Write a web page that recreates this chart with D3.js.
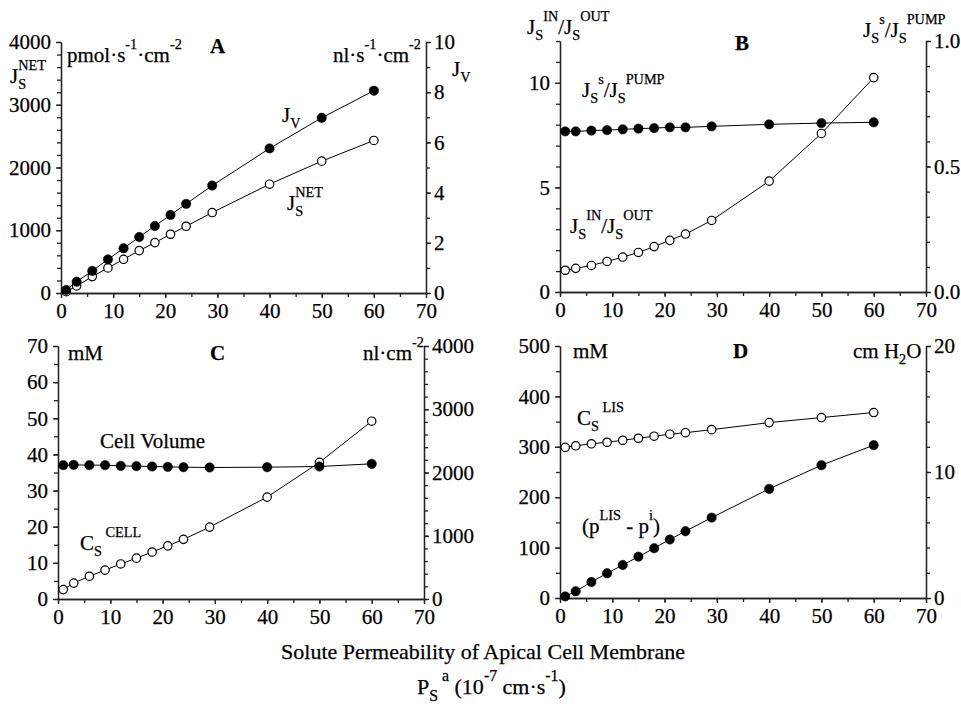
<!DOCTYPE html>
<html>
<head>
<meta charset="utf-8">
<script src="https://cdn.jsdelivr.net/npm/d3@7"></script>
<style>
  body { margin: 0; background: #fff; }
  text { font-family: "Liberation Serif", "Times New Roman", serif; fill: #000; }
</style>
</head>
<body>
<script>
// x positions shared by every panel (10^-7 cm/s)
const xVals = [1, 3, 6, 9, 12, 15, 18, 21, 24, 29, 40, 50, 60];

// panel A
const jsNetA = [21, 112, 261, 399, 537, 676, 803, 936, 1064, 1282, 1734, 2101, 2431];
const jvA = [0.12, 0.45, 0.88, 1.34, 1.78, 2.23, 2.67, 3.11, 3.55, 4.28, 5.76, 6.98, 8.06];
// panel B
const inOutB = [1.04, 1.13, 1.27, 1.46, 1.67, 1.89, 2.17, 2.47, 2.77, 3.42, 5.30, 7.58, 10.25];
const pumpB = [0.640, 0.640, 0.643, 0.645, 0.648, 0.651, 0.653, 0.656, 0.656, 0.660, 0.668, 0.673, 0.676];
// panel C
const csCellC = [2.6, 4.4, 6.3, 8.0, 9.7, 11.3, 13.0, 14.7, 16.5, 19.9, 28.2, 37.8, 49.2];
const cellVolC = [2116, 2121, 2116, 2116, 2105, 2100, 2095, 2089, 2084, 2079, 2084, 2095, 2137];
// panel D
const csLisD = [299, 302, 306, 309, 313, 317, 321, 325, 328, 334, 348, 358, 368];
const pressD = [0.13, 0.53, 1.27, 1.96, 2.62, 3.28, 3.95, 4.64, 5.30, 6.38, 8.66, 10.54, 12.13];

// tick labels
const xTicks = [0, 10, 20, 30, 40, 50, 60, 70];
const aLeftTicks = [0, 1000, 2000, 3000, 4000];
const aRightTicks = [0, 2, 4, 6, 8, 10];
const bLeftTicks = [0, 5, 10];
const bRightTicks = [0, 0.5, 1.0];
const cLeftTicks = [0, 10, 20, 30, 40, 50, 60, 70];
const cRightTicks = [0, 1000, 2000, 3000, 4000];
const dLeftTicks = [0, 100, 200, 300, 400, 500];
const dRightTicks = [0, 10, 20];

const FONT = "'Liberation Serif', 'Times New Roman', serif";
const NB = "\u00A0";

const svg = d3.select("body").append("svg")
    .attr("width", 961)
    .attr("height", 706)
    .attr("font-family", FONT);

// text with sub/superscripts, each piece placed after the previous one
function richText(x, y, parts, size, scr) {
    scr = scr || 0.68;
    let cx = x;
    parts.forEach(function(p) {
        const small = p.k === "sub" || p.k === "sup";
        const fs = small ? size * scr : size;
        const dy = p.k === "sub" ? size * 0.3 : (p.k === "sup" ? -size * 0.6 : 0);
        const t = svg.append("text")
            .attr("x", cx)
            .attr("y", y + dy)
            .attr("font-size", fs)
            .attr("font-family", FONT)
            .attr("font-weight", p.b ? "bold" : null)
            .attr("stroke", "#000")
            .attr("stroke-width", 0.25)
            .text(p.t.replace(/ /g, NB));
        if (!p.stay) cx += t.node().getComputedTextLength();
    });
}

function styleAxis(g) {
    g.attr("font-family", FONT).attr("font-size", 21);
    g.selectAll("path, line").attr("stroke", "#222").attr("stroke-width", 1.3);
    g.selectAll("text").attr("fill", "#000").attr("font-family", FONT)
        .attr("stroke", "#000").attr("stroke-width", 0.25);
}

function drawPanel(p) {
    const x = d3.scaleLinear().domain([0, 70]).range([p.x0, p.x1]);
    const yl = d3.scaleLinear().domain(p.yl).range([p.yB, p.yT]);
    const yr = d3.scaleLinear().domain(p.yr).range([p.yB, p.yT]);
    const intFmt = d3.format("d");

    // minor ticks first
    svg.append("g").attr("transform", "translate(0," + p.yB + ")")
        .call(d3.axisBottom(x).tickValues(d3.range(0, 71, 5)).tickSize(4).tickSizeOuter(0).tickFormat(""))
        .call(styleAxis);
    svg.append("g").attr("transform", "translate(" + p.x0 + ",0)")
        .call(d3.axisLeft(yl).tickValues(d3.range(p.yl[0], p.yl[1] + 1e-9, p.ylMin)).tickSize(4).tickSizeOuter(0).tickFormat(""))
        .call(styleAxis);
    svg.append("g").attr("transform", "translate(" + p.x1 + ",0)")
        .call(d3.axisRight(yr).tickValues(d3.range(p.yr[0], p.yr[1] + 1e-9, p.yrMin)).tickSize(4).tickSizeOuter(0).tickFormat(""))
        .call(styleAxis);

    // major ticks with labels
    svg.append("g").attr("transform", "translate(0," + p.yB + ")")
        .call(d3.axisBottom(x).tickValues(xTicks).tickSize(5).tickPadding(5).tickSizeOuter(0).tickFormat(intFmt))
        .call(styleAxis);
    svg.append("g").attr("transform", "translate(" + p.x0 + ",0)")
        .call(d3.axisLeft(yl).tickValues(p.ylTicks).tickSize(5).tickPadding(5).tickSizeOuter(0).tickFormat(intFmt))
        .call(styleAxis);
    svg.append("g").attr("transform", "translate(" + p.x1 + ",0)")
        .call(d3.axisRight(yr).tickValues(p.yrTicks).tickSize(5).tickPadding(3).tickSizeOuter(0).tickFormat(p.yrFmt || intFmt))
        .call(styleAxis);

    p.series.forEach(function(s) {
        const y = s.axis === "l" ? yl : yr;
        const pts = xVals.map(function(v, i) { return [v, s.y[i]]; });
        const line = d3.line()
            .x(function(d) { return x(d[0]); })
            .y(function(d) { return y(d[1]); });
        svg.append("path")
            .attr("d", line(pts))
            .attr("fill", "none")
            .attr("stroke", "#000")
            .attr("stroke-width", 1);
        svg.append("g").selectAll("circle")
            .data(pts)
            .enter()
            .append("circle")
            .attr("cx", function(d) { return x(d[0]); })
            .attr("cy", function(d) { return y(d[1]); })
            .attr("r", s.open ? 4.2 : 4.7)
            .attr("fill", s.open ? "#fff" : "#000")
            .attr("stroke", "#000")
            .attr("stroke-width", s.open ? 1.2 : 0.5);
    });
}

drawPanel({ x0: 61, x1: 426, yT: 42, yB: 293,
    yl: [0, 4000], ylTicks: aLeftTicks, ylMin: 200,
    yr: [0, 10], yrTicks: aRightTicks, yrMin: 1,
    series: [{ y: jsNetA, axis: "l", open: true }, { y: jvA, axis: "r", open: false }] });

drawPanel({ x0: 560, x1: 926, yT: 41, yB: 292,
    yl: [0, 12], ylTicks: bLeftTicks, ylMin: 1,
    yr: [0, 1], yrTicks: bRightTicks, yrMin: 0.1, yrFmt: d3.format(".1f"),
    series: [{ y: inOutB, axis: "l", open: true }, { y: pumpB, axis: "r", open: false }] });

drawPanel({ x0: 58, x1: 424, yT: 346, yB: 599,
    yl: [0, 70], ylTicks: cLeftTicks, ylMin: 5,
    yr: [0, 4000], yrTicks: cRightTicks, yrMin: 200,
    series: [{ y: csCellC, axis: "l", open: true }, { y: cellVolC, axis: "r", open: false }] });

drawPanel({ x0: 560, x1: 926, yT: 346, yB: 598,
    yl: [0, 500], ylTicks: dLeftTicks, ylMin: 50,
    yr: [0, 20], yrTicks: dRightTicks, yrMin: 2,
    series: [{ y: csLisD, axis: "l", open: true }, { y: pressD, axis: "r", open: false }] });

// panel A labels
richText(10, 83, [{ t: "J" }, { t: "S", k: "sub", stay: true }, { t: "NET", k: "sup" }], 21);
richText(67, 62, [{ t: "pmol\u00B7s" }, { t: "-1", k: "sup" }, { t: "\u00B7cm" }, { t: "-2", k: "sup" }], 21);
richText(210, 53, [{ t: "A", b: true }], 21);
richText(333, 62, [{ t: "nl\u00B7s" }, { t: "-1", k: "sup" }, { t: "\u00B7cm" }, { t: "-2", k: "sup" }], 21);
richText(452, 76, [{ t: "J" }, { t: "V", k: "sub" }], 21);
richText(282, 122, [{ t: "J" }, { t: "V", k: "sub" }], 21);
richText(287, 210, [{ t: "J" }, { t: "S", k: "sub", stay: true }, { t: "NET", k: "sup" }], 21);

// panel B labels
richText(527, 34, [{ t: "J" }, { t: "S", k: "sub" }, { t: "IN", k: "sup" }, { t: "/J" }, { t: "S", k: "sub" }, { t: "OUT", k: "sup" }], 21);
richText(735, 50, [{ t: "B", b: true }], 21);
richText(863, 37, [{ t: "J" }, { t: "S", k: "sub" }, { t: "s", k: "sup" }, { t: "/J" }, { t: "S", k: "sub" }, { t: "PUMP", k: "sup" }], 21);
richText(582, 97, [{ t: "J" }, { t: "S", k: "sub" }, { t: "s", k: "sup" }, { t: "/J" }, { t: "S", k: "sub" }, { t: "PUMP", k: "sup" }], 21);
richText(570, 233, [{ t: "J" }, { t: "S", k: "sub" }, { t: "IN", k: "sup" }, { t: "/J" }, { t: "S", k: "sub" }, { t: "OUT", k: "sup" }], 21);

// panel C labels
richText(68, 360, [{ t: "mM" }], 21);
richText(210, 360, [{ t: "C", b: true }], 21);
richText(363, 360, [{ t: "nl\u00B7cm" }, { t: "-2", k: "sup" }], 21);
richText(100, 448, [{ t: "Cell Volume" }], 21);
richText(80, 550, [{ t: "C" }, { t: "S", k: "sub" }, { t: " CELL", k: "sup" }], 21);

// panel D labels
richText(573, 358, [{ t: "mM" }], 21);
richText(733, 358, [{ t: "D", b: true }], 21);
richText(853, 358, [{ t: "cm H" }, { t: "2", k: "sub" }, { t: "O" }], 21);
richText(577, 425, [{ t: "C" }, { t: "S", k: "sub" }, { t: " LIS", k: "sup" }], 21);
richText(582, 533, [{ t: "(p" }, { t: "LIS", k: "sup" }, { t: " - p" }, { t: "i", k: "sup" }, { t: ")" }], 21);

// shared x axis title
svg.append("text")
    .attr("x", 483)
    .attr("y", 659)
    .attr("text-anchor", "middle")
    .attr("font-size", 22)
    .attr("font-family", FONT)
    .attr("stroke", "#000")
    .attr("stroke-width", 0.25)
    .text("Solute Permeability of Apical Cell Membrane");
richText(417, 694, [{ t: "P" }, { t: "S", k: "sub" }, { t: " a", k: "sup" }, { t: " (10" }, { t: "-7", k: "sup" }, { t: " cm\u00B7s" }, { t: "-1", k: "sup" }, { t: ")" }], 22, 0.72);
</script>
</body>
</html>
